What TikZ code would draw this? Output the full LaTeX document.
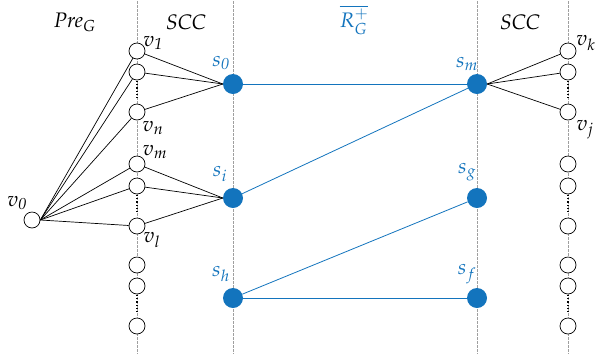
\documentclass[tikz,border=0pt]{standalone}
\usepackage[T1]{fontenc}
\usepackage{mathpazo}
\usetikzlibrary{calc}
\definecolor{sblue}{RGB}{19,116,189}
\begin{document}
\begin{tikzpicture}[x=1pt,y=-1pt,
  guide/.style={gray!75, dash pattern=on 2.5pt off 1.5pt, line width=0.5pt},
  vtx/.style={circle, draw, fill=white, line width=0.7pt, minimum size=16pt, inner sep=0pt},
  svtx/.style={circle, fill=sblue, minimum size=20pt, inner sep=0pt},
  edge/.style={line width=0.7pt},
  sedge/.style={sblue, line width=0.8pt},
  gap/.style={line width=1.6pt, dash pattern=on 1.2pt off 2pt},
  lbl/.style={font=\fontsize{21}{25}\selectfont, inner sep=0pt},
  slbl/.style={lbl, text=sblue}]
\useasboundingbox (0,0) rectangle (595,360);

% column separators
\foreach \x in {137,233,477,568}
  \draw[guide] (\x,1) -- (\x,354);

% column headings
\node[lbl] (hpre) at (75,22) {$\mathit{Pre}_{G}$};
\node[lbl] (hscc1) at (186,22) {\textit{SCC}};
\node[lbl, text=sblue] (hr) at (354,20) {$\overline{R^{+}_{G}}$};
\node[lbl] (hscc2) at (520,22) {\textit{SCC}};

% coordinates of the small vertices
\foreach \i/\y in {1/51,2/72,3/112,4/164,5/186,6/226,7/265,8/286,9/326} {
  \coordinate (pa\i) at (137,\y);
  \coordinate (pb\i) at (568,\y);
}

% dotted gaps between vertex groups
\foreach \p/\q in {2/3,5/6,8/9} {
  \draw[gap] ($(pa\p)+(0,9)$) -- ($(pa\q)+(0,-12)$);
  \draw[gap] ($(pb\p)+(0,9)$) -- ($(pb\q)+(0,-12)$);
}

% small vertices
\foreach \i in {1,...,9} {
  \node[vtx] (a\i) at (pa\i) {};
  \node[vtx] (b\i) at (pb\i) {};
}
\node[vtx] (v0) at (32,220) {};

% condensed vertices
\node[svtx] (s0) at (233,84) {};
\node[svtx] (si) at (233,198) {};
\node[svtx] (sh) at (233,298) {};
\node[svtx] (sm) at (477,84) {};
\node[svtx] (sg) at (477,198) {};
\node[svtx] (sf) at (477,298) {};

% black edges
\foreach \i in {1,...,6}
  \draw[edge] (v0.east) -- (a\i);
\foreach \i in {1,2,3}
  \draw[edge] (a\i) -- (s0.west);
\foreach \i in {4,5,6}
  \draw[edge] (a\i) -- (si.west);
\foreach \i in {1,2,3}
  \draw[edge] (sm.east) -- (b\i);

% blue edges
\draw[sedge] (s0) -- (sm);
\draw[sedge] (si) -- (sm);
\draw[sedge] (sh) -- (sg);
\draw[sedge] (sh) -- (sf);

% vertex labels
\node[lbl] (l1) at (153,43) {$v_{\mathit{1}}$};
\node[lbl] (ln) at (153,128) {$v_{n}$};
\node[lbl] (lm) at (155,152) {$v_{m}$};
\node[lbl] (ll) at (152,240) {$v_{l}$};
\node[lbl] (l0) at (17,203) {$v_{\mathit{0}}$};
\node[lbl] (lk) at (586,43) {$v_{k}$};
\node[lbl] (lj) at (585,130) {$v_{j}$};

\node[slbl] (ls0) at (221,63) {$s_{\mathit{0}}$};
\node[slbl] (lsi) at (220,174) {$s_{i}$};
\node[slbl] (lsh) at (221,274) {$s_{h}$};
\node[slbl] (lsm) at (467,64) {$s_{m}$};
\node[slbl] (lsg) at (467,172) {$s_{g}$};
\node[slbl] (lsf) at (467,274) {$s_{f}$};
\end{tikzpicture}
\end{document}
